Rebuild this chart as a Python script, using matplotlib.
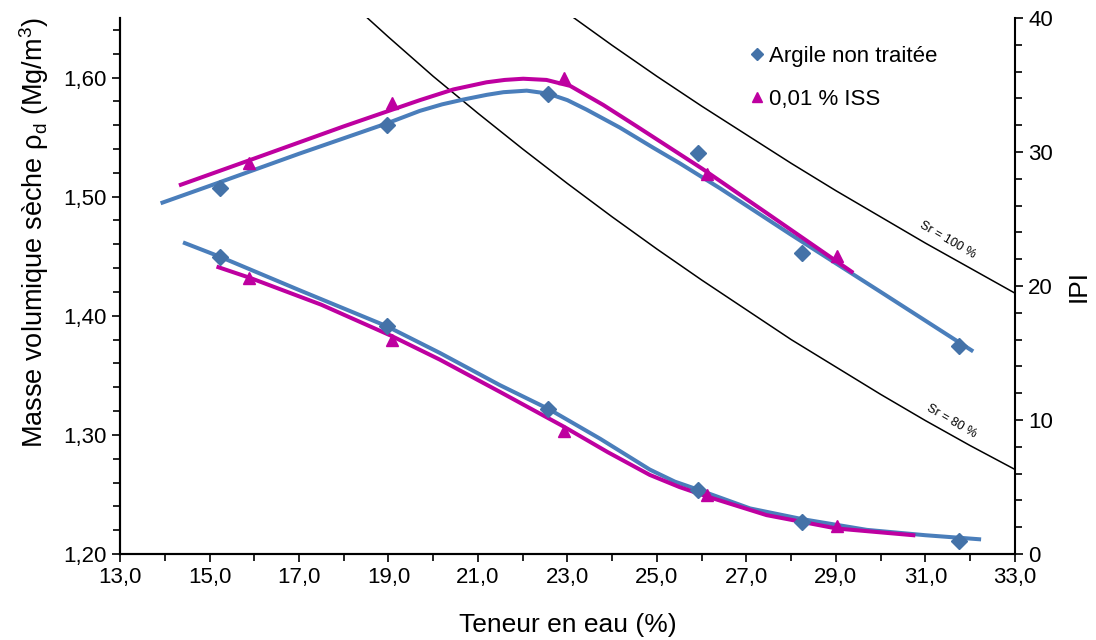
import numpy as np
import matplotlib
matplotlib.use("Agg")
import matplotlib.pyplot as plt
from matplotlib.ticker import MultipleLocator, FixedLocator, FuncFormatter

plt.rcParams['font.family'] = ['Liberation Sans', 'DejaVu Sans']

# measured points: water content (%), dry density (Mg/m3), IPI
w_argile = [15.24, 18.96, 22.57, 25.91, 28.25, 31.76]
rho_argile = [1.507, 1.560, 1.586, 1.537, 1.453, 1.375]
ipi_argile = [22.2, 17.0, 10.8, 4.8, 2.4, 1.0]

w_iss = [15.89, 19.07, 22.92, 26.12, 29.03]
rho_iss = [1.528, 1.579, 1.600, 1.519, 1.450]
ipi_iss = [20.6, 16.0, 9.2, 4.4, 2.1]

# fitted curves
wt_rho_argile = [13.95, 15.0, 17.0, 19.0, 19.7, 20.2, 20.67, 21.2, 21.57, 22.09, 22.57, 23.0,
                 23.43, 24.17, 24.92, 25.51, 26.41, 28.0, 30.0, 32.03]
rt_rho_argile = [1.495, 1.509, 1.536, 1.562, 1.572, 1.5775, 1.5815, 1.5855, 1.5877, 1.589,
                 1.5865, 1.581, 1.573, 1.558, 1.541, 1.528, 1.507, 1.468, 1.420, 1.371]

wt_rho_iss = [14.36, 16.0, 18.0, 19.7, 20.45, 21.19, 21.6, 22.01, 22.53, 23.06, 23.8, 24.55,
              25.29, 26.03, 27.5, 29.35]
rt_rho_iss = [1.510, 1.532, 1.559, 1.581, 1.590, 1.596, 1.598, 1.599, 1.598, 1.593, 1.577,
              1.559, 1.541, 1.523, 1.485, 1.437]

wt_ipi_argile = [14.45, 15.22, 17.0, 18.96, 20.15, 21.49, 22.59, 23.73, 24.84, 25.4, 25.92,
                 27.08, 28.25, 29.69, 31.0, 32.2]
it_ipi_argile = [23.2, 22.2, 19.7, 17.0, 15.0, 12.6, 10.8, 8.6, 6.3, 5.4, 4.8, 3.4, 2.6, 1.8,
                 1.4, 1.1]

wt_ipi_iss = [15.2, 15.91, 17.5, 19.05, 20.15, 21.49, 22.92, 23.9, 24.84, 25.5, 26.11, 27.45,
              29.02, 30.73]
it_ipi_iss = [21.4, 20.6, 18.6, 16.3, 14.5, 12.1, 9.5, 7.6, 5.9, 5.0, 4.3, 2.9, 1.9, 1.4]

# saturation curves
w_sr100 = [22, 23, 24, 25, 26, 27, 28, 29, 30, 31, 32, 33]
rho_sr100 = [1.682, 1.654, 1.627, 1.601, 1.576, 1.552, 1.528, 1.505, 1.483, 1.461, 1.440, 1.419]
w_sr80 = [18, 19, 20, 21, 22, 23, 24, 25, 26, 27, 28, 29, 30, 31, 32, 33]
rho_sr80 = [1.668, 1.634, 1.601, 1.570, 1.540, 1.511, 1.483, 1.456, 1.430, 1.405, 1.380,
            1.357, 1.334, 1.312, 1.291, 1.271]

blue = '#4A7EBB'
blue_mk = '#4472A8'
mag = '#BE00A0'

comma = FuncFormatter(lambda v, p: ('%.2f' % v).replace('.', ','))
comma1 = FuncFormatter(lambda v, p: ('%.1f' % v).replace('.', ','))

fig = plt.figure(figsize=(10.96, 6.4), dpi=100)
ax = fig.add_axes([0.1095, 0.1344, 0.8165, 0.8375])
ax2 = ax.twinx()

# density curves (left axis)
ax.plot(w_sr100, rho_sr100, color='black', lw=1.1, zorder=1)
ax.plot(w_sr80, rho_sr80, color='black', lw=1.1, zorder=1)
ax.plot(wt_rho_argile, rt_rho_argile, color=blue, lw=2.9, zorder=2, solid_joinstyle='round')
ax.plot(wt_rho_iss, rt_rho_iss, color=mag, lw=2.9, zorder=2, solid_joinstyle='round')
ax.plot(w_argile, rho_argile, 'D', color=blue_mk, ms=8, ls='none', zorder=3,
        label='Argile non traitée')
ax.plot(w_iss, rho_iss, '^', color=mag, ms=9, ls='none', zorder=3, label='0,01 % ISS')

# IPI curves (right axis)
ax2.plot(wt_ipi_argile, it_ipi_argile, color=blue, lw=2.9, zorder=2, solid_joinstyle='round')
ax2.plot(wt_ipi_iss, it_ipi_iss, color=mag, lw=2.9, zorder=2, solid_joinstyle='round')
ax2.plot(w_argile, ipi_argile, 'D', color=blue_mk, ms=8, ls='none', zorder=3)
ax2.plot(w_iss, ipi_iss, '^', color=mag, ms=9, ls='none', zorder=3)

fig.text(948 / 1096, 1 - 240 / 640, 'Sr = 100 %', fontsize=9, rotation=-30,
         ha='center', va='center')
fig.text(952 / 1096, 1 - 421 / 640, 'Sr = 80 %', fontsize=9, rotation=-30,
         ha='center', va='center')

ax.set_xlim(13, 33)
ax.set_ylim(1.20, 1.65)
ax2.set_ylim(0, 40)

ax.xaxis.set_major_locator(FixedLocator(np.arange(13, 34, 2)))
ax.xaxis.set_minor_locator(MultipleLocator(1))
ax.xaxis.set_major_formatter(comma1)
ax.yaxis.set_major_locator(MultipleLocator(0.1))
ax.yaxis.set_minor_locator(MultipleLocator(0.02))
ax.yaxis.set_major_formatter(comma)
ax2.yaxis.set_major_locator(MultipleLocator(10))
ax2.yaxis.set_minor_locator(MultipleLocator(2))

for a in (ax, ax2):
    a.spines['top'].set_visible(False)
    for s in a.spines.values():
        s.set_linewidth(1.5)
    a.tick_params(which='both', direction='out', width=1.2, labelsize=16)
    a.tick_params(which='major', length=6)
    a.tick_params(which='minor', length=5)
ax.spines['right'].set_visible(False)

ax.set_xlabel('Teneur en eau (%)', fontsize=19, labelpad=18)
ax.set_ylabel('Masse volumique sèche ρ$_\\mathregular{d}$ (Mg/m$^\\mathregular{3}$)',
              fontsize=19.5)
ax.yaxis.set_label_coords(-0.077, 0.6)
ax2.set_ylabel('IPI', fontsize=19, labelpad=10)

ax.legend(loc='upper left', bbox_to_anchor=(0.68, 0.985), frameon=False, fontsize=16,
          handletextpad=0.1, markerscale=0.8, labelspacing=1.0, handlelength=0.8)

fig.savefig('out.png', dpi=100)
